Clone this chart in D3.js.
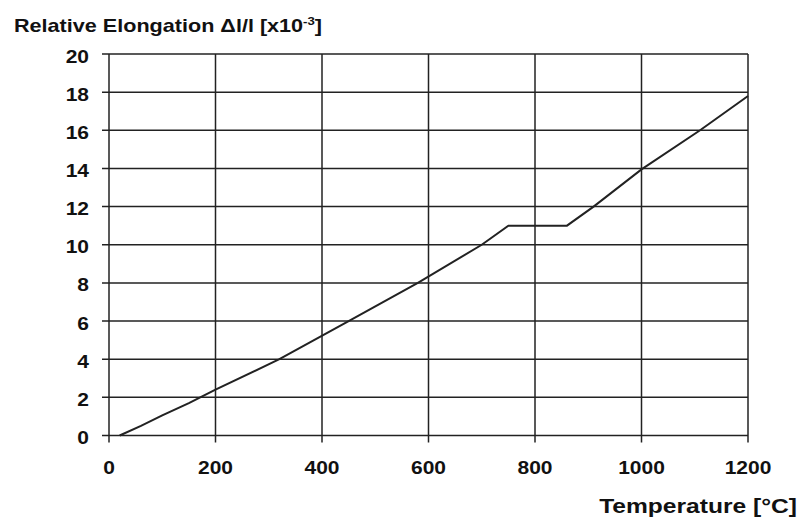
<!DOCTYPE html>
<html>
<head>
<meta charset="utf-8">
<script src="https://cdn.jsdelivr.net/npm/d3@7"></script>
<style>
  body { margin: 0; background: #fff; }
  text { font-family: "Liberation Sans", Arial, sans-serif; font-weight: bold; fill: #111; }
</style>
</head>
<body>
<div id="chart"></div>
<script>
// temperature in °C and relative elongation in 1e-3
const temps = [20, 60, 100, 150, 200, 320, 450, 580, 700, 750, 860, 910, 1000, 1110, 1200];
const elong = [0, 0.5, 1.05, 1.7, 2.4, 4.0, 6.0, 8.0, 10.0, 11.0, 11.0, 12.0, 13.95, 16.0, 17.8];
const xTicks = [0, 200, 400, 600, 800, 1000, 1200];
const yTicks = [0, 2, 4, 6, 8, 10, 12, 14, 16, 18, 20];

const width = 802, height = 522;
const plotLeft = 109, plotRight = 748, plotTop = 54, plotBottom = 435.5;
const stretch = 1.2; // the text in the source is drawn horizontally stretched

const svg = d3.select("#chart").append("svg")
  .attr("width", width)
  .attr("height", height);

const x = d3.scaleLinear().domain([0, 1200]).range([plotLeft, plotRight]);
const y = d3.scaleLinear().domain([0, 20]).range([plotBottom, plotTop]);

// grid lines, extending past the frame like ticks
svg.append("g").selectAll("line")
  .data(xTicks)
  .join("line")
  .attr("x1", d => x(d)).attr("x2", d => x(d))
  .attr("y1", plotTop).attr("y2", plotBottom + 7)
  .attr("stroke", "#222").attr("stroke-width", 1.5);

svg.append("g").selectAll("line")
  .data(yTicks)
  .join("line")
  .attr("x1", plotLeft - 7).attr("x2", plotRight)
  .attr("y1", d => y(d)).attr("y2", d => y(d))
  .attr("stroke", "#222").attr("stroke-width", 1.5);

// helper for stretched text
function label(px, py, anchor, size) {
  return svg.append("g")
    .attr("transform", `translate(${px},${py}) scale(${stretch},1)`)
    .append("text")
    .attr("text-anchor", anchor)
    .style("font-size", size + "px");
}

// tick labels
yTicks.forEach(d => label(89, y(d) + 8.5, "end", 17.5).text(d));
xTicks.forEach(d => label(x(d), 473.5, "middle", 17.5).text(d));

// curve
const line = d3.line()
  .x((d, i) => x(temps[i]))
  .y(d => y(d));

svg.append("path")
  .datum(elong)
  .attr("d", line)
  .attr("fill", "none")
  .attr("stroke", "#222")
  .attr("stroke-width", 2);

// axis titles
const yt = label(14, 32, "start", 18);
yt.append("tspan").text("Relative Elongation \u0394l/l [x10");
yt.append("tspan").attr("dy", -7).style("font-size", "11px").text("-3");
yt.append("tspan").attr("dy", 7).text("]");

label(797, 512.5, "end", 20.5).text("Temperature [\u00b0C]");
</script>
</body>
</html>
